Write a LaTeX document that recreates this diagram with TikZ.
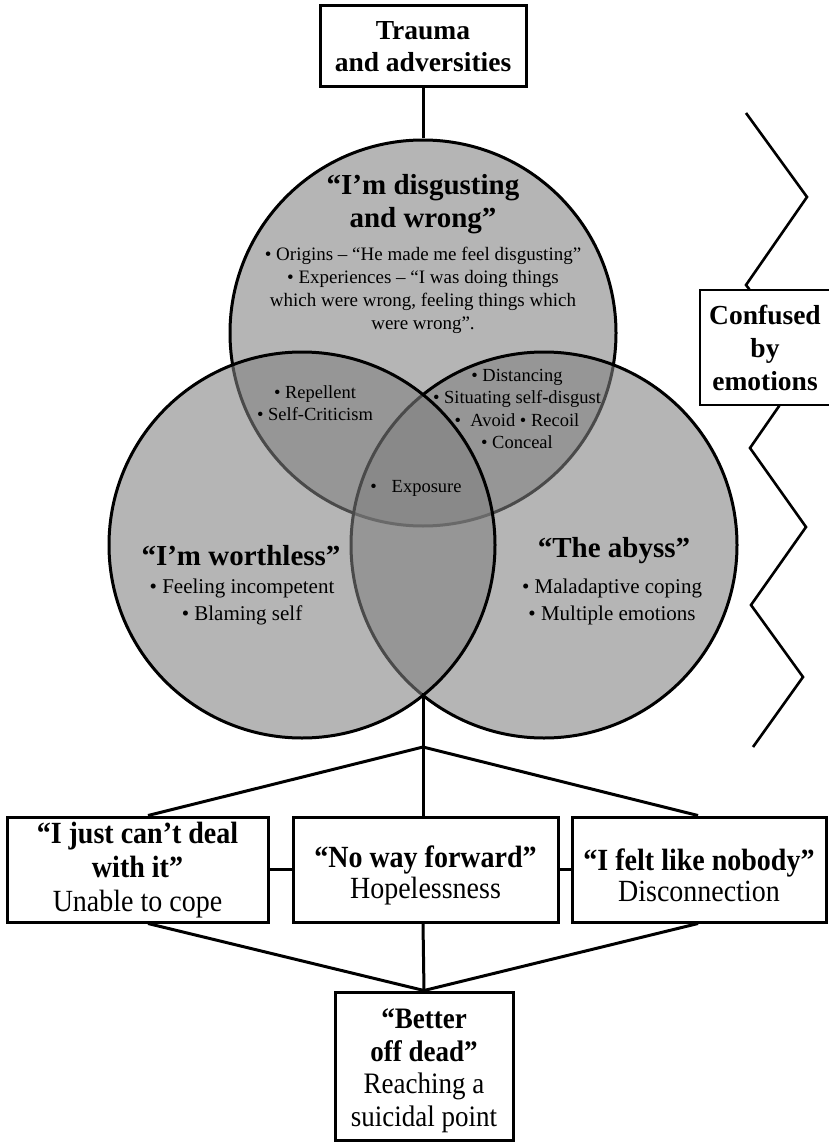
\documentclass[tikz,border=0pt]{standalone}
\usepackage{fontspec}
\setmainfont{Liberation Serif}
\usetikzlibrary{calc}
\newcommand\vstretch[1]{\scalebox{1}[1.1]{#1}}
\begin{document}
\begin{tikzpicture}[x=1pt,y=-1pt]
\tikzset{
  venn/.style={circle, minimum size=386pt, inner sep=0pt, draw=black, line width=3pt, fill=black!50, fill opacity=0.58},
  rbox/.style={draw=black, line width=3pt, fill=white, align=center, inner sep=0pt},
  conn/.style={draw=black, line width=3pt},
  zig/.style={draw=black, line width=2.6pt},
  ttl/.style={align=center, inner sep=0pt, font=\fontsize{29}{33}\selectfont\bfseries},
  blt/.style={align=center, inner sep=0pt},
}
\useasboundingbox (0,0) rectangle (828,1142);

% circles
\node[venn] (ctop) at (423,333) {};
\node[venn] (cright) at (544,545) {};
\node[venn] (cleft) at (302,545) {};

% circle texts
\node[ttl] (t1) at (423,204) {“I’m disgusting\\and wrong”};
\node[blt, font=\fontsize{19}{23}\selectfont] (t1b) at (423,290) {• Origins – “He made me feel disgusting”\\• Experiences – “I was doing things\\which were wrong, feeling things which\\were wrong”.};
\node[blt, font=\fontsize{18.5}{22.3}\selectfont] (ov1) at (315,403) {• Repellent\\• Self-Criticism};
\node[blt, font=\fontsize{18.5}{22.3}\selectfont] (ov2) at (517,409) {• Distancing\\• Situating self-disgust\\•\hspace{0.5em}Avoid • Recoil\\• Conceal};
\node[blt, font=\fontsize{18.5}{22}\selectfont] (ov3) at (416,488) {•\hspace{0.8em}Exposure};
\node[ttl] (t2) at (241,556) {“I’m worthless”};
\node[blt, font=\fontsize{21}{27}\selectfont] (t2b) at (242,602) {• Feeling incompetent\\• Blaming self};
\node[ttl] (t3) at (614,551) {“The abyss”};
\node[blt, font=\fontsize{21}{27}\selectfont] (t3b) at (612,602) {• Maladaptive coping\\• Multiple emotions};

% boxes
\node[rbox, minimum width=206pt, minimum height=81pt, font=\fontsize{27.5}{32}\selectfont\bfseries] (trauma) at (423,46.5) {Trauma\\and adversities};
\node[rbox, line width=1.2pt, minimum width=130pt, minimum height=115pt, font=\fontsize{27.5}{33}\selectfont\bfseries] (confused) at (765,347.5) {Confused\\by\\emotions};
\node[rbox, minimum width=261pt, minimum height=105pt] (cope) at (137.5,869.5) {};
\node[rbox, minimum width=265pt, minimum height=105pt] (hope) at (425.5,869.5) {};
\node[rbox, minimum width=254pt, minimum height=105pt] (nobody) at (699,869.5) {};
\node[rbox, minimum width=178pt, minimum height=148pt] (dead) at (424,1066) {};
\node[blt, font=\fontsize{28}{34}\selectfont] (copet) at ($(cope)+(0,1)$) {\vstretch{\textbf{“I just can’t deal}}\\\vstretch{\textbf{with it”}}\\\vstretch{Unable to cope}};
\node[blt, font=\fontsize{28}{31}\selectfont] (hopet) at ($(hope)+(0,6)$) {\vstretch{\textbf{“No way forward”}}\\\vstretch{Hopelessness}};
\node[blt, font=\fontsize{28}{31}\selectfont] (nobodyt) at ($(nobody)+(0,6)$) {\vstretch{\textbf{“I felt like nobody”}}\\\vstretch{Disconnection}};
\node[blt, font=\fontsize{27}{32.5}\selectfont] (deadt) at ($(dead)+(0,5)$) {\vstretch{\textbf{“Better}}\\\vstretch{\textbf{off dead”}}\\\vstretch{Reaching a}\\\vstretch{suicidal point}};

% connectors
\coordinate (lensbot) at (423,693);
\coordinate (j1) at (423,747);
\draw[conn] (trauma.south) -- (ctop.north);
\draw[conn] (lensbot) -- (j1);
\draw[conn] (j1) -- ($(cope.north)+(10.5,0)$);
\draw[conn] (j1) -- (j1 |- hope.north);
\draw[conn] (j1) -- ($(nobody.north)+(-1,0)$);
\draw[conn] (cope.east) -- (hope.west);
\draw[conn] (hope.east) -- (nobody.west);
\draw[conn] ($(cope.south)+(10.5,0)$) -- (dead.north);
\draw[conn] (j1 |- hope.south) -- (dead.north);
\draw[conn] ($(nobody.south)+(-1,0)$) -- (dead.north);

% zigzag
\coordinate (z1) at (746,113);
\coordinate (z2) at (807,197);
\coordinate (z3) at (746,285);
\coordinate (z4) at (750,448);
\coordinate (z5) at (806,527);
\coordinate (z6) at (751,605);
\coordinate (z7) at (803,677);
\coordinate (z8) at (753,747);
\draw[zig] (z1) -- (z2) -- (z3) -- ($(confused.north west)+(50,0)$);
\draw[zig] ($(confused.south west)+(80,0)$) -- (z4) -- (z5) -- (z6) -- (z7) -- (z8);
\end{tikzpicture}
\end{document}
